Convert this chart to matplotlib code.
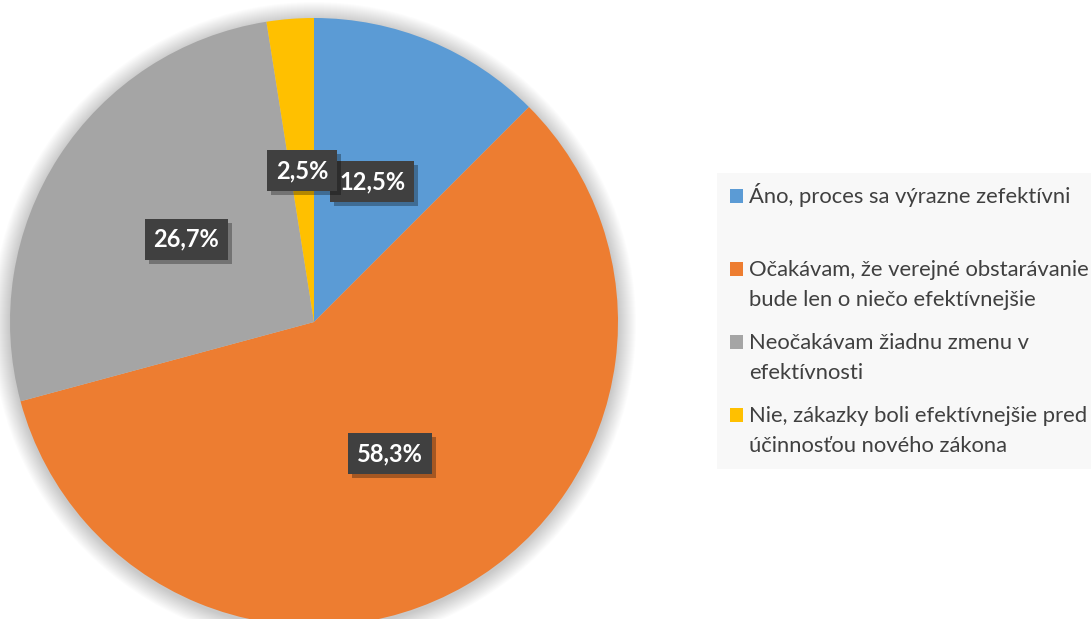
import matplotlib
matplotlib.use('Agg')
import matplotlib.pyplot as plt
import matplotlib.patheffects as pe
from matplotlib.patches import Circle, Rectangle

# answers and their shares (percent)
labels = [
    'Áno, proces sa výrazne zefektívni',
    'Očakávam, že verejné obstarávanie\nbude len o niečo efektívnejšie',
    'Neočakávam žiadnu zmenu v\nefektívnosti',
    'Nie, zákazky boli efektívnejšie pred\núčinnosťou nového zákona',
]
shares = [12.5, 58.3, 26.7, 2.5]
colors = ['#5B9BD5', '#ED7D31', '#A5A5A5', '#FFC000']

# layout in pixels (figure is 1091x619)
W, H = 1091, 619
CX, CY, R = 314, H - 322, 304
FONT = 'Lato'

fig = plt.figure(figsize=(W / 100, H / 100), dpi=100)
ax = fig.add_axes([0, 0, 1, 1])

# soft glow / shadow around the pie
for k in range(18, 0, -1):
    ax.add_patch(Circle((CX, CY - 2), R + k, fc='black', ec='none', alpha=0.012))

wedges, texts, autotexts = ax.pie(
    shares, colors=colors, radius=R, center=(CX, CY), startangle=90,
    counterclock=False, pctdistance=0.5, frame=True,
    autopct=lambda p: f'{p:.1f}%'.replace('.', ','),
    wedgeprops={'linewidth': 0})
ax.set_xlim(0, W)
ax.set_ylim(0, H)
ax.set_aspect('equal')
ax.axis('off')

# dark label boxes with a drop shadow
for t in autotexts:
    t.set_color('white')
    t.set_fontsize(17)
    t.set_fontweight('bold')
    t.set_family(FONT)
    t.set_bbox(dict(boxstyle='square,pad=0.38', fc='#404040', ec='none'))
    t.get_bbox_patch().set_path_effects([
        pe.SimplePatchShadow(offset=(3, -3), shadow_rgbFace='black', alpha=0.3),
        pe.Normal()])

# legend drawn by hand so that the marker sits on the first line
ax.add_patch(Rectangle((717, H - 469), W - 717, 469 - 173, fc='#f8f8f8', ec='none'))
step = 73
for i, (lab, col) in enumerate(zip(labels, colors)):
    base = 203 + step * i
    ax.add_patch(Rectangle((730, H - base), 13, 14, fc=col, ec='none'))
    for j, line in enumerate(lab.split('\n')):
        ax.text(749, H - (base + 30 * j), line, fontsize=15.8, family=FONT,
                color='#404040', va='baseline', ha='left')

fig.savefig('out.png', dpi=100)
